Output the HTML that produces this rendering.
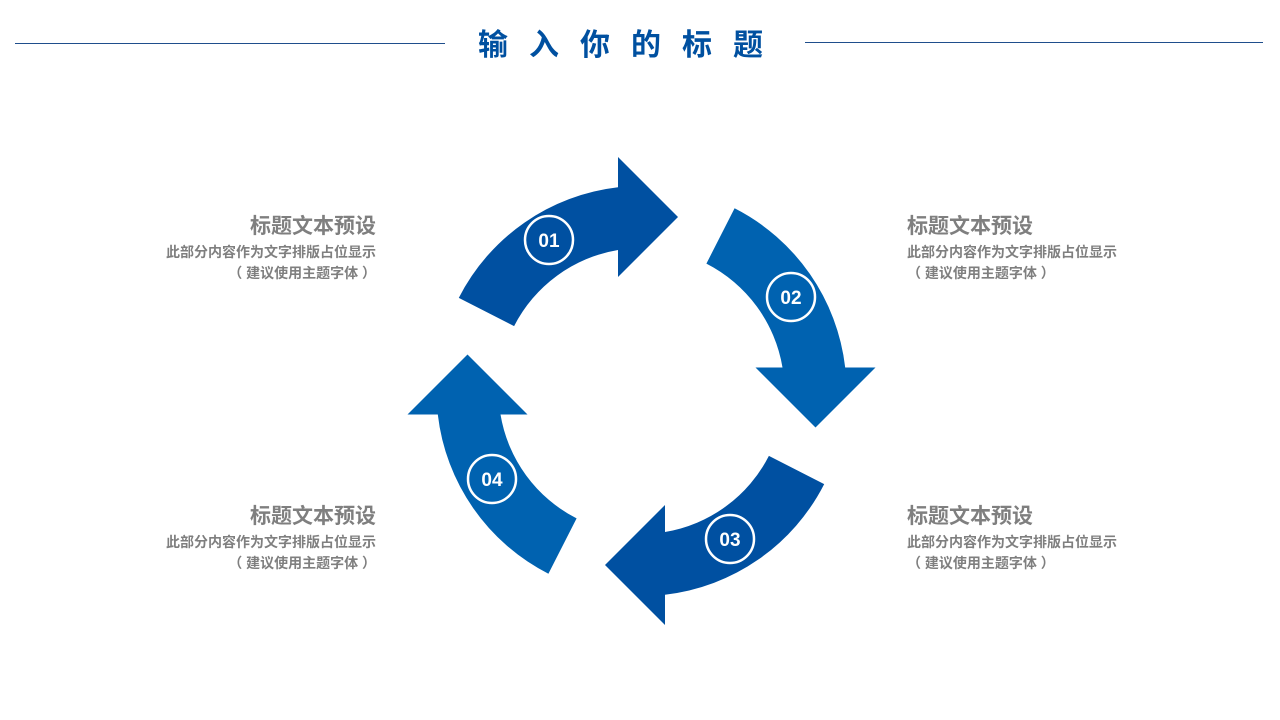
<!DOCTYPE html>
<html><head><meta charset="utf-8"><style>
body{margin:0;width:1280px;height:720px;background:#fff;position:relative;overflow:hidden;font-family:"Liberation Sans","Noto Sans CJK SC",sans-serif}
.t{position:absolute;color:#7f7f7f;font-weight:bold;white-space:nowrap}
.h{font-size:21px;line-height:24px}
.s{font-size:14px;line-height:21px}
.l{right:904px;text-align:right}
.r{left:907px;text-align:left}
</style></head><body>
<div style="position:absolute;left:15px;top:43px;width:430px;height:1px;background:#1f4e8c"></div>
<div style="position:absolute;left:805px;top:42px;width:458px;height:1px;background:#1f4e8c"></div>
<div style="position:absolute;left:478px;top:26px;width:320px;text-align:left;color:#0050a0;font-weight:bold;font-size:30px;letter-spacing:21px;line-height:40px;white-space:nowrap">输入你的标题</div>

<svg width="1280" height="720" style="position:absolute;left:0;top:0">
<defs>
<path id="a" d="M458.8,297.9 A205,205 0 0 1 618,187.3 L618,157 L678,217 L618,277 L618,250 A143,143 0 0 0 514.1,326.1 Z"/>
</defs>
<use href="#a" fill="#0050a1"/>
<use href="#a" fill="#0062b0" transform="rotate(90 641.5 391)"/>
<use href="#a" fill="#0050a1" transform="rotate(180 641.5 391)"/>
<use href="#a" fill="#0062b0" transform="rotate(270 641.5 391)"/>
<g fill="none" stroke="#fff" stroke-width="2.5">
<circle cx="549" cy="240" r="24"/><circle cx="791" cy="297" r="24"/>
<circle cx="730" cy="539" r="24"/><circle cx="492" cy="479" r="24"/>
</g>
<g fill="#fff" font-family="Liberation Sans,sans-serif" font-weight="bold" font-size="19" text-anchor="middle">
<text x="549" y="247">01</text><text x="791" y="304">02</text>
<text x="730" y="546">03</text><text x="492" y="486">04</text>
</g>
</svg>

<div class="t h l" style="top:215px">标题文本预设</div>
<div class="t s l" style="top:242px">此部分内容作为文字排版占位显示<br>（ 建议使用主题字体 ）</div>
<div class="t h r" style="top:215px">标题文本预设</div>
<div class="t s r" style="top:242px">此部分内容作为文字排版占位显示<br>（ 建议使用主题字体 ）</div>
<div class="t h l" style="top:505px">标题文本预设</div>
<div class="t s l" style="top:532px">此部分内容作为文字排版占位显示<br>（ 建议使用主题字体 ）</div>
<div class="t h r" style="top:505px">标题文本预设</div>
<div class="t s r" style="top:532px">此部分内容作为文字排版占位显示<br>（ 建议使用主题字体 ）</div>
</body></html>
